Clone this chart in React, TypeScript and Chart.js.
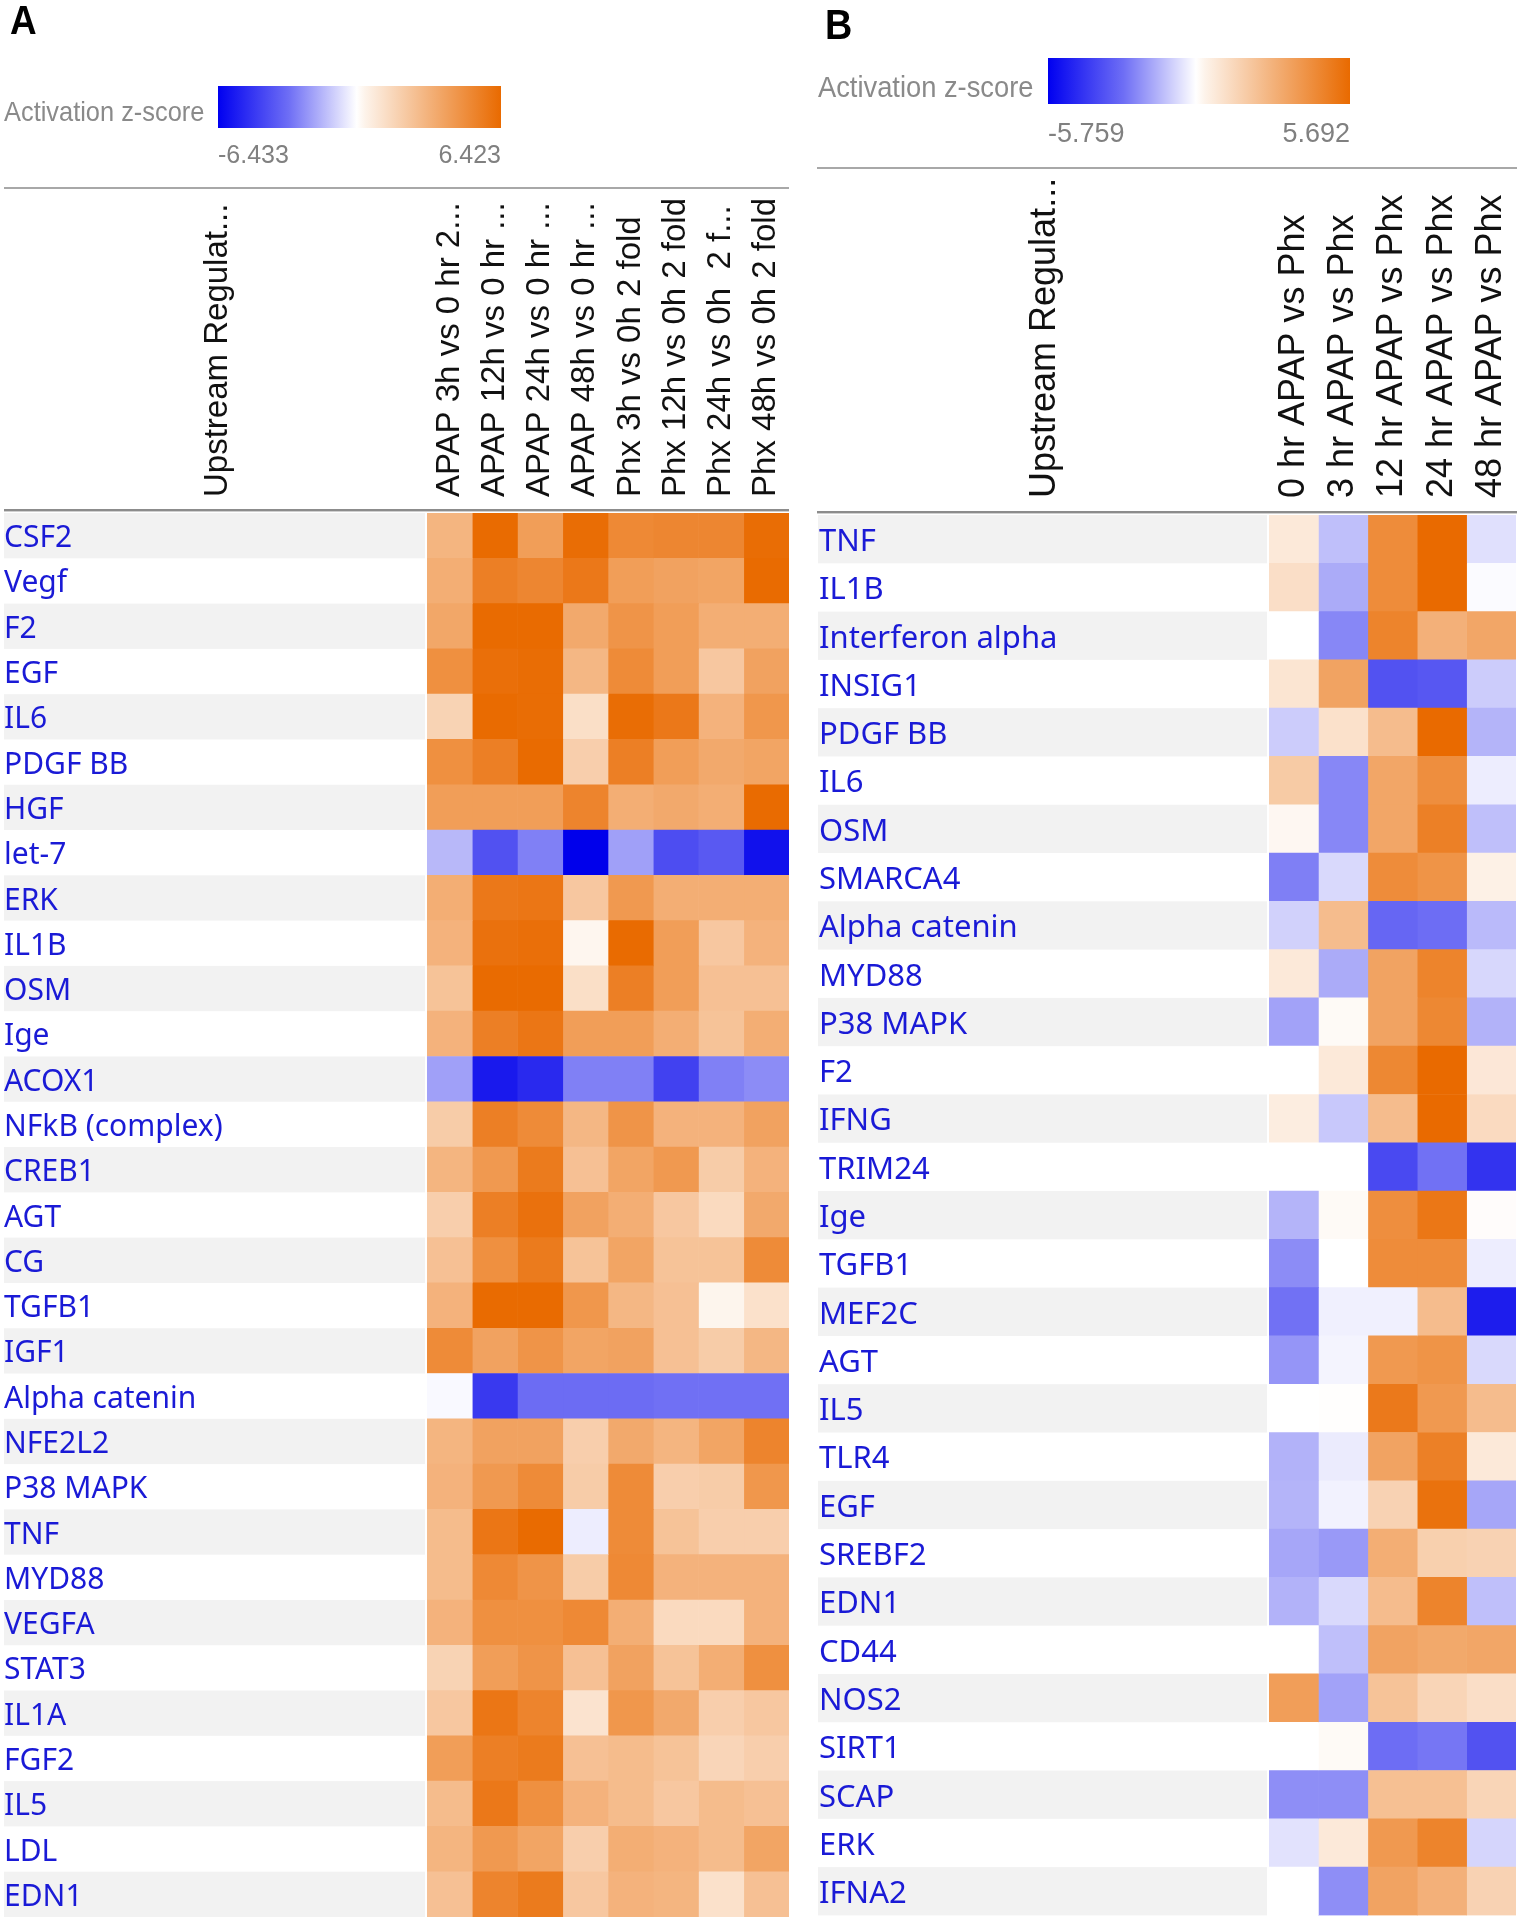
import React, { useEffect, useRef } from "react";
import { Chart, registerables } from "chart.js";

Chart.register(...registerables);

// ---------------- Panel A data ----------------
const rowsA = [
  "CSF2", "Vegf", "F2", "EGF", "IL6", "PDGF BB", "HGF", "let-7", "ERK", "IL1B",
  "OSM", "Ige", "ACOX1", "NFkB (complex)", "CREB1", "AGT", "CG", "TGFB1", "IGF1",
  "Alpha catenin", "NFE2L2", "P38 MAPK", "TNF", "MYD88", "VEGFA", "STAT3", "IL1A",
  "FGF2", "IL5", "LDL", "EDN1",
];
const colsA = [
  "APAP 3h vs 0 hr 2...", "APAP 12h vs 0 hr ...", "APAP 24h vs 0 hr ...", "APAP 48h vs 0 hr ...",
  "Phx 3h vs 0h 2 fold", "Phx 12h vs 0h 2 fold", "Phx 24h vs 0h  2 f...", "Phx 48h vs 0h 2 fold",
];
const zApap3h = [3.2, 3.5, 3.8, 4.8, 1.9, 4.8, 4.2, -1.8, 3.5, 3.3, 2.6, 3.3, -2.4, 2.2, 3.2, 2.1, 2.7, 3.3, 5.0, -0.15, 3.2, 3.3, 2.9, 2.9, 3.3, 1.9, 2.4, 4.2, 2.9, 3.2, 2.7];
const zApap12h = [6.4, 5.5, 6.4, 6.2, 6.4, 5.5, 4.2, -4.4, 5.8, 6.1, 6.4, 5.5, -5.8, 5.5, 4.4, 5.5, 4.8, 6.4, 4.0, -5.0, 4.0, 4.4, 5.9, 5.1, 4.8, 4.2, 5.9, 5.5, 5.8, 4.4, 5.3];
const zApap24h = [4.2, 5.2, 6.4, 6.3, 6.3, 6.4, 4.2, -3.2, 5.9, 6.2, 6.4, 5.9, -5.4, 5.0, 5.7, 6.1, 5.7, 6.4, 4.6, -3.7, 4.0, 5.0, 6.4, 4.6, 4.8, 4.6, 5.3, 5.7, 4.8, 3.9, 5.7];
const zApap48h = [6.3, 5.8, 3.7, 3.1, 1.4, 2.1, 5.3, -6.43, 2.4, 0.4, 1.4, 4.2, -3.2, 3.1, 2.7, 4.0, 2.6, 4.5, 3.9, -3.7, 2.1, 2.2, -0.45, 2.2, 5.1, 2.7, 1.2, 2.7, 3.3, 2.1, 2.4];
const zPhx3h = [5.1, 4.2, 4.6, 5.0, 6.3, 5.5, 3.5, -2.4, 4.4, 6.4, 5.5, 4.2, -3.2, 4.6, 3.9, 3.5, 3.9, 3.1, 4.0, -3.7, 3.7, 5.0, 5.0, 5.1, 3.5, 4.0, 4.5, 2.9, 2.9, 3.5, 3.3];
const zPhx12h = [5.2, 4.0, 4.2, 4.2, 5.8, 4.2, 3.7, -4.5, 3.5, 4.2, 4.2, 3.5, -4.8, 3.3, 4.4, 2.4, 2.6, 2.7, 2.7, -3.6, 3.2, 2.1, 2.6, 3.3, 1.6, 2.6, 3.7, 2.6, 2.4, 3.3, 3.2];
const zPhx24h = [5.2, 3.9, 3.5, 2.4, 3.3, 3.7, 3.5, -4.2, 3.5, 2.4, 2.7, 2.6, -3.2, 3.3, 2.2, 1.6, 2.6, 0.45, 2.2, -3.6, 3.9, 2.2, 2.1, 3.3, 1.6, 3.5, 2.1, 1.8, 2.9, 2.9, 1.3];
const zPhx48h = [6.3, 6.4, 3.5, 4.0, 4.5, 3.9, 6.4, -6.0, 3.5, 3.3, 2.7, 3.5, -2.9, 4.0, 3.3, 3.7, 5.0, 1.3, 3.1, -3.6, 5.3, 4.5, 2.1, 3.3, 3.3, 4.8, 2.4, 2.1, 2.7, 3.9, 2.7];
const seriesA = [zApap3h, zApap12h, zApap24h, zApap48h, zPhx3h, zPhx12h, zPhx24h, zPhx48h];
const rangeA = [-6.433, 6.423];
const rangeLabelsA = ["-6.433", "6.423"];

// ---------------- Panel B data ----------------
const rowsB = [
  "TNF", "IL1B", "Interferon alpha", "INSIG1", "PDGF BB", "IL6", "OSM", "SMARCA4",
  "Alpha catenin", "MYD88", "P38 MAPK", "F2", "IFNG", "TRIM24", "Ige", "TGFB1", "MEF2C",
  "AGT", "IL5", "TLR4", "EGF", "SREBF2", "EDN1", "CD44", "NOS2", "SIRT1", "SCAP", "ERK", "IFNA2",
];
const colsB = ["0 hr APAP vs Phx", "3 hr APAP vs Phx", "12 hr APAP vs Phx", "24 hr APAP vs Phx", "48 hr APAP vs Phx"];
const z0hr = [0.85, 1.25, null, 1.0, -1.15, 2.0, 0.3, -2.9, -1.05, 0.85, -2.1, null, 0.7, null, -1.7, -2.6, -3.2, -2.4, null, -1.75, -1.7, -2.0, -1.75, null, 3.7, null, -2.55, -0.65, null];
const z3hr = [-1.45, -1.9, -2.7, 3.5, 1.15, -2.7, -2.7, -0.85, 2.55, -1.9, 0.2, 0.85, -1.25, null, 0.2, null, -0.35, -0.25, 0.05, -0.45, -0.3, -2.3, -0.85, -1.45, -2.1, 0.2, -2.55, 0.85, -2.55];
const z12hr = [4.4, 4.4, 4.7, -3.9, 2.55, 3.4, 3.4, 4.4, -3.45, 3.5, 3.5, 4.55, 2.55, -4.1, 4.3, 4.4, -0.35, 3.9, 5.1, 3.5, 1.7, 3.1, 2.55, 3.5, 2.3, -3.3, 2.4, 3.9, 3.5];
const z24hr = [5.69, 5.69, 3.0, -3.8, 5.69, 4.3, 4.85, 4.1, -3.3, 4.7, 4.55, 5.69, 5.69, -3.2, 5.2, 4.4, 2.55, 4.1, 3.9, 4.85, 5.4, 1.8, 4.7, 3.3, 1.6, -3.1, 2.4, 4.7, 3.0];
const z48hr = [-0.7, -0.1, 3.4, -1.15, -1.7, -0.4, -1.45, 0.55, -1.55, -0.9, -1.75, 0.9, 1.4, -4.6, 0.1, -0.4, -5.1, -0.85, 2.55, 0.85, -2.0, 1.7, -1.45, 3.4, 1.25, -3.9, 1.6, -0.95, 1.7];
const seriesB = [z0hr, z3hr, z12hr, z24hr, z48hr];
const rangeB = [-5.759, 5.692];
const rangeLabelsB = ["-5.759", "5.692"];

// ---------------- styling ----------------
const ORANGE = [233, 106, 0];
const BLUE = [0, 0, 235];
const LABEL_BLUE = "#1a1ad6";

function mix(c: number[], t: number) {
  const r = Math.round(255 + (c[0] - 255) * t);
  const g = Math.round(255 + (c[1] - 255) * t);
  const b = Math.round(255 + (c[2] - 255) * t);
  return `rgb(${r},${g},${b})`;
}
function cellColor(z: number | null, zmin: number, zmax: number) {
  if (z === null || z === undefined) return "#ffffff";
  if (z >= 0) return mix(ORANGE, Math.min(1, z / zmax));
  return mix(BLUE, Math.min(1, z / zmin));
}

type Geom = {
  left: number; width: number; padL: number; yAxisW: number; padR: number; top: number; padB: number;
  stripeL: number; stripeR: number; headerGap: number; upstreamX: number;
  dblY: number; lineL: number; lineR: number; sepY: number;
  titleX: number; titleBase: number; titleSize: number; titleScale: number;
  barX: number; barY: number; barW: number; barH: number; digitBase: number; digitSize: number;
  letter: string; letterX: number; letterBase: number; letterSize: number;
  rowFont: number; headFont: number; labelShift: number;
};

function HeatPanel(props: { rows: string[]; cols: string[]; series: (number | null)[][]; range: number[]; rangeLabels: string[]; g: Geom }) {
  const ref = useRef<HTMLCanvasElement>(null);
  const { g } = props;
  useEffect(() => {
    const canvas = ref.current!;
    const [zmin, zmax] = props.range;
    const decor = {
      id: "decor",
      beforeDraw(chart: any) {
        const { ctx, scales } = chart;
        const y = scales.y;
        const h = y.getPixelForValue(1) - y.getPixelForValue(0);
        ctx.save();
        ctx.fillStyle = "#ffffff";
        ctx.fillRect(0, 0, chart.width, chart.height);
        ctx.fillStyle = "#f2f2f2";
        props.rows.forEach((_, i) => {
          if (i % 2 === 0) {
            const c = y.getPixelForValue(i);
            ctx.fillRect(g.stripeL, c - h / 2, g.stripeR - g.stripeL, h);
          }
        });
        ctx.restore();
      },
      afterDraw(chart: any) {
        const { ctx, chartArea, scales } = chart;
        const x = scales.x;
        ctx.save();
        // panel letter
        ctx.fillStyle = "#000";
        ctx.font = `bold ${g.letterSize}px "Liberation Sans", Arial, sans-serif`;
        ctx.textAlign = "left";
        ctx.textBaseline = "alphabetic";
        ctx.save();
        ctx.translate(g.letterX, g.letterBase);
        ctx.scale(0.9, 1);
        ctx.fillText(g.letter, 0, 0);
        ctx.restore();
        // legend title
        ctx.fillStyle = "#8a8a8a";
        ctx.font = `${g.titleSize}px "Liberation Sans", Arial, sans-serif`;
        ctx.save();
        ctx.translate(g.titleX, g.titleBase);
        ctx.scale(g.titleScale, 1);
        ctx.fillText("Activation z-score", 0, 0);
        ctx.restore();
        // gradient bar
        const grad = ctx.createLinearGradient(g.barX, 0, g.barX + g.barW, 0);
        grad.addColorStop(0, "rgb(0,0,240)");
        grad.addColorStop(0.25, "rgb(110,110,245)");
        grad.addColorStop(0.49, "rgb(255,255,255)");
        grad.addColorStop(0.52, "rgb(253,243,234)");
        grad.addColorStop(0.75, "rgb(243,176,120)");
        grad.addColorStop(1, "rgb(233,106,0)");
        ctx.fillStyle = grad;
        ctx.fillRect(g.barX, g.barY, g.barW, g.barH);
        // range labels
        ctx.fillStyle = "#808080";
        ctx.font = `${g.digitSize}px "Liberation Sans", Arial, sans-serif`;
        ctx.textAlign = "left";
        ctx.fillText(props.rangeLabels[0], g.barX, g.digitBase);
        ctx.textAlign = "right";
        ctx.fillText(props.rangeLabels[1], g.barX + g.barW, g.digitBase);
        // separator line
        ctx.fillStyle = "#a8a8a8";
        ctx.fillRect(g.lineL, g.sepY, g.lineR - g.lineL, 2);
        // double line above the heat map
        ctx.fillStyle = "#8c8c8c";
        ctx.fillRect(g.lineL, g.dblY, g.lineR - g.lineL, 2);
        ctx.fillStyle = "#cfcfcf";
        ctx.fillRect(g.lineL, g.dblY + 2, g.lineR - g.lineL, 1);
        // column headers (rotated)
        ctx.fillStyle = "#111";
        ctx.font = `${g.headFont}px "Liberation Sans", Arial, sans-serif`;
        ctx.textAlign = "left";
        ctx.textBaseline = "middle";
        const yStart = chartArea.top - g.headerGap;
        const drawRot = (text: string, px: number) => {
          ctx.save();
          ctx.translate(px, yStart);
          ctx.rotate(-Math.PI / 2);
          ctx.fillText(text, 0, 0);
          ctx.restore();
        };
        drawRot("Upstream Regulat...", g.upstreamX);
        props.cols.forEach((c, j) => drawRot(c, x.getPixelForValue(j + 0.5)));
        ctx.restore();
      },
    };

    const datasets = props.series.map((col, j) => ({
      label: props.cols[j],
      data: props.rows.map(() => 1),
      backgroundColor: col.map((z) => cellColor(z, zmin, zmax)),
      borderWidth: 0,
      barPercentage: 1,
      categoryPercentage: 1,
    }));

    const chart = new Chart(canvas, {
      type: "bar",
      data: { labels: props.rows, datasets },
      options: {
        indexAxis: "y",
        responsive: false,
        animation: false,
        devicePixelRatio: 1,
        events: [],
        layout: { padding: { left: g.padL, right: g.padR, top: g.top, bottom: g.padB } },
        plugins: { legend: { display: false }, tooltip: { enabled: false } },
        scales: {
          x: { type: "linear", stacked: true, min: 0, max: props.cols.length, display: false },
          y: {
            type: "category",
            stacked: true,
            offset: true,
            grid: { display: false, drawTicks: false },
            border: { display: false },
            ticks: {
              crossAlign: "far",
              padding: 0,
              labelOffset: g.labelShift,
              autoSkip: false,
              color: LABEL_BLUE,
              font: { family: '"Noto Sans", "Open Sans", sans-serif', size: g.rowFont },
            },
            afterFit: (s: any) => {
              s.width = g.yAxisW;
              s.paddingTop = 0;
              s.paddingBottom = 0;
            },
          },
        },
      },
      plugins: [decor],
    } as any);
    return () => chart.destroy();
  }, []);
  return (
    <canvas
      ref={ref}
      width={g.width}
      height={1920}
      style={{ position: "absolute", left: g.left, top: 0, width: g.width, height: 1920, display: "block" }}
    />
  );
}

const geomA: Geom = {
  left: 0, width: 800, padL: 4, yAxisW: 423, padR: 11, top: 513, padB: 3,
  stripeL: 4, stripeR: 425, headerGap: 16, upstreamX: 218,
  dblY: 509, lineL: 4, lineR: 789, sepY: 187,
  titleX: 4, titleBase: 121, titleSize: 28, titleScale: 0.907,
  barX: 218, barY: 86, barW: 283, barH: 42, digitBase: 163, digitSize: 25,
  letter: "A", letterX: 10, letterBase: 34, letterSize: 41,
  rowFont: 30, headFont: 33, labelShift: 3,
};
const geomB: Geom = {
  left: 800, width: 717, padL: 19, yAxisW: 450, padR: 1, top: 515, padB: 4.6,
  stripeL: 18, stripeR: 467, headerGap: 17, upstreamX: 245,
  dblY: 511, lineL: 17, lineR: 717, sepY: 167,
  titleX: 18, titleBase: 97, titleSize: 30, titleScale: 0.91,
  barX: 248, barY: 58, barW: 302, barH: 46, digitBase: 142, digitSize: 27,
  letter: "B", letterX: 25, letterBase: 39, letterSize: 42,
  rowFont: 31, headFont: 36, labelShift: 3,
};

export default function App() {
  return (
    <div style={{ position: "absolute", left: 0, top: 0, width: 1517, height: 1920, background: "#fff", overflow: "hidden" }}>
      <HeatPanel rows={rowsA} cols={colsA} series={seriesA} range={rangeA} rangeLabels={rangeLabelsA} g={geomA} />
      <HeatPanel rows={rowsB} cols={colsB} series={seriesB} range={rangeB} rangeLabels={rangeLabelsB} g={geomB} />
    </div>
  );
}
